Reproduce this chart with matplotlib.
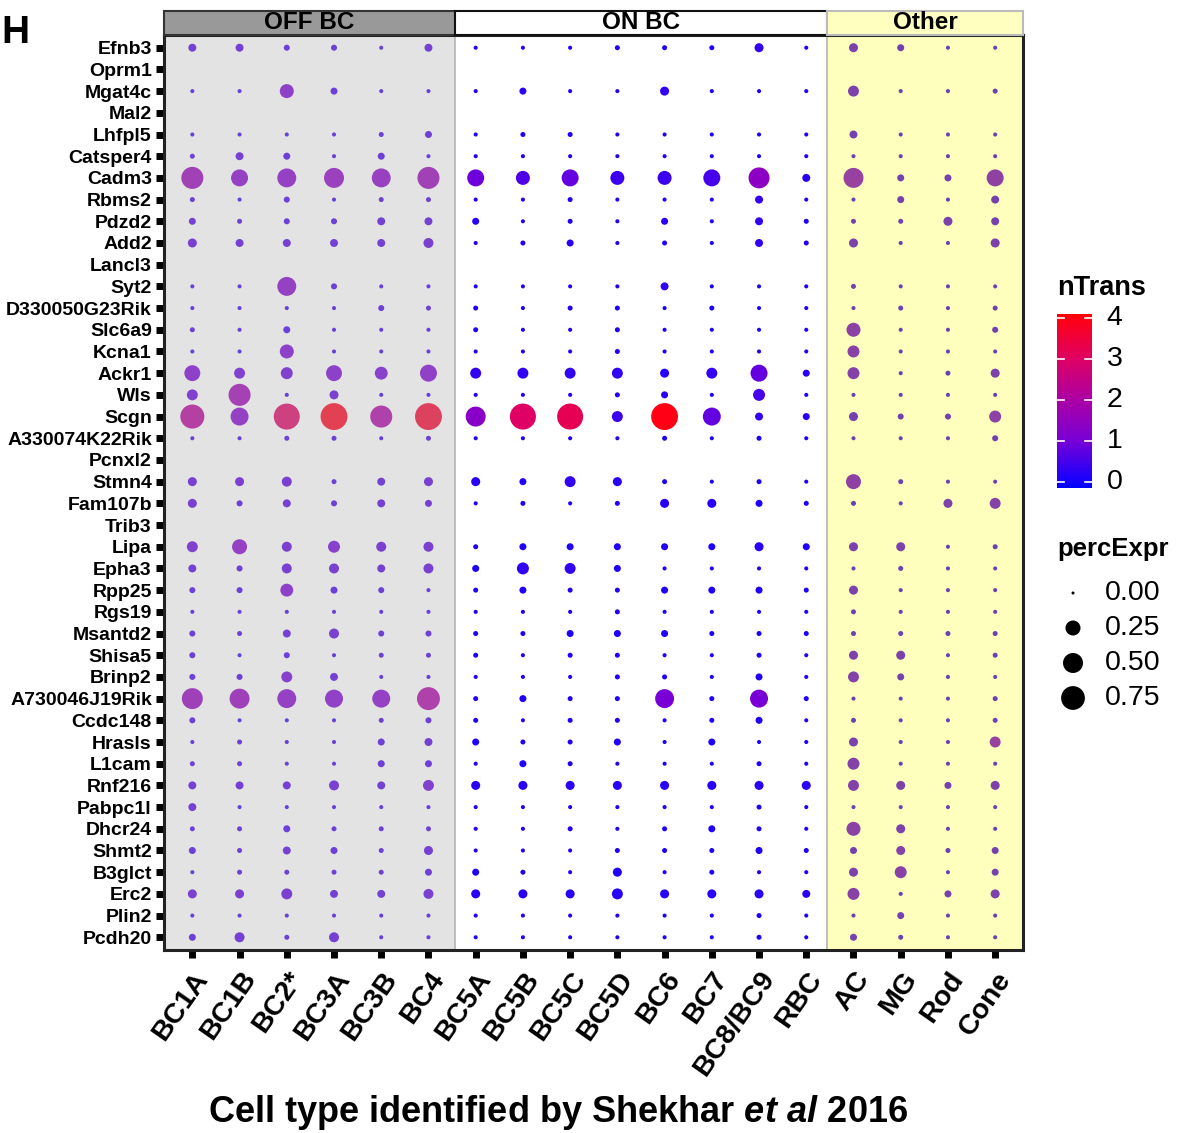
import numpy as np
import matplotlib
matplotlib.use("Agg")
import matplotlib.pyplot as plt
import matplotlib.transforms as mtransforms
from matplotlib.colors import LinearSegmentedColormap, Normalize
from matplotlib.patches import Rectangle

plt.rcParams['font.family'] = ['Liberation Sans', 'DejaVu Sans']
plt.rcParams['mathtext.fontset'] = 'custom'
plt.rcParams['mathtext.rm'] = 'Liberation Sans:bold'
plt.rcParams['mathtext.it'] = 'Liberation Sans:italic:bold'
plt.rcParams['mathtext.bf'] = 'Liberation Sans:bold'

# ---------------- data ----------------
genes = ["Efnb3", "Oprm1", "Mgat4c", "Mal2", "Lhfpl5", "Catsper4", "Cadm3", "Rbms2",
         "Pdzd2", "Add2", "Lancl3", "Syt2", "D330050G23Rik", "Slc6a9", "Kcna1", "Ackr1",
         "Wls", "Scgn", "A330074K22Rik", "Pcnxl2", "Stmn4", "Fam107b", "Trib3", "Lipa",
         "Epha3", "Rpp25", "Rgs19", "Msantd2", "Shisa5", "Brinp2", "A730046J19Rik",
         "Ccdc148", "Hrasls", "L1cam", "Rnf216", "Pabpc1l", "Dhcr24", "Shmt2", "B3glct",
         "Erc2", "Plin2", "Pcdh20"]

off_types = ["BC1A", "BC1B", "BC2*", "BC3A", "BC3B", "BC4"]
on_types = ["BC5A", "BC5B", "BC5C", "BC5D", "BC6", "BC7", "BC8/BC9", "RBC"]
other_types = ["AC", "MG", "Rod", "Cone"]
group_names = ["OFF BC", "ON BC", "Other"]

# fraction of cells expressing (None = gene not measured)
off_pct = [
    [0.043, 0.043, 0.016, 0.016, 0.002, 0.043],
    None,
    [0.002, 0.002, 0.21, 0.028, 0.002, 0.002],
    None,
    [0.002, 0.002, 0.002, 0.002, 0.007, 0.028],
    [0.007, 0.043, 0.028, 0.002, 0.028, 0.002],
    [0.63, 0.34, 0.44, 0.50, 0.44, 0.63],
    [0.007, 0.002, 0.016, 0.002, 0.007, 0.007],
    [0.028, 0.007, 0.016, 0.016, 0.043, 0.043],
    [0.063, 0.043, 0.043, 0.043, 0.043, 0.085],
    None,
    [0.002, 0.002, 0.44, 0.016, 0.002, 0.002],
    [0.002, 0.002, 0.002, 0.002, 0.016, 0.007],
    [0.007, 0.002, 0.028, 0.002, 0.002, 0.002],
    [0.002, 0.002, 0.21, 0.002, 0.002, 0.002],
    [0.29, 0.11, 0.14, 0.29, 0.17, 0.34],
    [0.11, 0.63, 0.002, 0.063, 0.002, 0.002],
    [0.77, 0.39, 0.92, 0.99, 0.63, 0.99],
    [0.002, 0.002, 0.007, 0.007, 0.002, 0.007],
    None,
    [0.063, 0.063, 0.085, 0.007, 0.043, 0.063],
    [0.063, 0.016, 0.043, 0.016, 0.043, 0.028],
    None,
    [0.11, 0.25, 0.085, 0.14, 0.085, 0.085],
    [0.043, 0.016, 0.085, 0.085, 0.043, 0.085],
    [0.016, 0.016, 0.17, 0.028, 0.016, 0.002],
    [0.002, 0.002, 0.002, 0.002, 0.002, 0.002],
    [0.016, 0.007, 0.043, 0.085, 0.016, 0.016],
    [0.016, 0.002, 0.016, 0.002, 0.007, 0.007],
    [0.016, 0.016, 0.11, 0.043, 0.002, 0.002],
    [0.56, 0.50, 0.44, 0.39, 0.39, 0.69],
    [0.016, 0.002, 0.002, 0.002, 0.007, 0.016],
    [0.002, 0.007, 0.002, 0.002, 0.028, 0.043],
    [0.007, 0.007, 0.002, 0.002, 0.028, 0.028],
    [0.043, 0.043, 0.043, 0.085, 0.043, 0.11],
    [0.043, 0.002, 0.002, 0.002, 0.002, 0.002],
    [0.007, 0.007, 0.028, 0.007, 0.007, 0.007],
    [0.028, 0.007, 0.043, 0.028, 0.007, 0.063],
    [0.002, 0.007, 0.007, 0.007, 0.007, 0.028],
    [0.063, 0.063, 0.11, 0.043, 0.043, 0.085],
    [0.002, 0.002, 0.002, 0.002, 0.002, 0.002],
    [0.028, 0.085, 0.007, 0.085, 0.002, 0.002],
]

on_pct = [
    [0.002, 0.002, 0.002, 0.007, 0.007, 0.007, 0.063, 0.002],
    None,
    [0.002, 0.028, 0.002, 0.002, 0.063, 0.002, 0.002, 0.002],
    None,
    [0.002, 0.007, 0.007, 0.002, 0.002, 0.002, 0.002, 0.002],
    [0.002, 0.002, 0.002, 0.002, 0.002, 0.002, 0.002, 0.002],
    [0.34, 0.21, 0.34, 0.21, 0.21, 0.34, 0.56, 0.043],
    [0.002, 0.002, 0.007, 0.002, 0.002, 0.002, 0.043, 0.002],
    [0.028, 0.002, 0.007, 0.002, 0.028, 0.002, 0.043, 0.007],
    [0.002, 0.007, 0.028, 0.002, 0.007, 0.002, 0.043, 0.007],
    None,
    [0.002, 0.002, 0.002, 0.002, 0.043, 0.002, 0.002, 0.002],
    [0.007, 0.002, 0.007, 0.007, 0.002, 0.007, 0.002, 0.002],
    [0.007, 0.002, 0.002, 0.007, 0.002, 0.002, 0.002, 0.002],
    [0.002, 0.002, 0.002, 0.007, 0.002, 0.002, 0.002, 0.002],
    [0.11, 0.11, 0.11, 0.11, 0.063, 0.11, 0.34, 0.028],
    [0.002, 0.002, 0.002, 0.007, 0.028, 0.002, 0.14, 0.002],
    [0.50, 0.92, 0.92, 0.11, 0.99, 0.39, 0.043, 0.028],
    [0.002, 0.002, 0.002, 0.002, 0.007, 0.002, 0.007, 0.002],
    None,
    [0.063, 0.028, 0.11, 0.063, 0.007, 0.002, 0.007, 0.002],
    [0.002, 0.007, 0.002, 0.007, 0.063, 0.063, 0.028, 0.007],
    None,
    [0.007, 0.028, 0.028, 0.028, 0.028, 0.028, 0.063, 0.028],
    [0.028, 0.14, 0.11, 0.028, 0.002, 0.002, 0.002, 0.002],
    [0.007, 0.028, 0.007, 0.007, 0.028, 0.028, 0.028, 0.007],
    [0.002, 0.002, 0.002, 0.007, 0.002, 0.002, 0.002, 0.002],
    [0.007, 0.007, 0.028, 0.028, 0.028, 0.007, 0.007, 0.007],
    [0.007, 0.002, 0.007, 0.007, 0.002, 0.002, 0.007, 0.002],
    [0.002, 0.002, 0.002, 0.007, 0.007, 0.002, 0.028, 0.002],
    [0.007, 0.028, 0.007, 0.007, 0.44, 0.007, 0.39, 0.007],
    [0.007, 0.002, 0.007, 0.007, 0.002, 0.007, 0.028, 0.002],
    [0.028, 0.007, 0.007, 0.028, 0.002, 0.028, 0.002, 0.002],
    [0.002, 0.028, 0.007, 0.002, 0.002, 0.002, 0.007, 0.002],
    [0.063, 0.063, 0.063, 0.063, 0.063, 0.063, 0.063, 0.063],
    [0.002, 0.002, 0.002, 0.002, 0.002, 0.002, 0.007, 0.002],
    [0.002, 0.002, 0.007, 0.002, 0.007, 0.028, 0.007, 0.002],
    [0.002, 0.002, 0.002, 0.007, 0.007, 0.007, 0.028, 0.007],
    [0.028, 0.007, 0.002, 0.063, 0.002, 0.007, 0.002, 0.002],
    [0.063, 0.063, 0.063, 0.11, 0.063, 0.063, 0.063, 0.043],
    [0.002, 0.002, 0.002, 0.002, 0.002, 0.002, 0.007, 0.002],
    [0.002, 0.002, 0.002, 0.002, 0.002, 0.002, 0.007, 0.002],
]

other_pct = [
    [0.063, 0.028, 0.002, 0.002],
    None,
    [0.11, 0.002, 0.002, 0.007],
    None,
    [0.043, 0.002, 0.002, 0.002],
    [0.002, 0.002, 0.002, 0.002],
    [0.50, 0.028, 0.028, 0.34],
    [0.002, 0.028, 0.002, 0.043],
    [0.007, 0.007, 0.063, 0.043],
    [0.063, 0.002, 0.002, 0.063],
    None,
    [0.007, 0.002, 0.002, 0.002],
    [0.002, 0.007, 0.002, 0.007],
    [0.21, 0.002, 0.002, 0.016],
    [0.14, 0.002, 0.002, 0.002],
    [0.14, 0.002, 0.007, 0.063],
    [0.002, 0.002, 0.002, 0.002],
    [0.063, 0.016, 0.016, 0.14],
    [0.002, 0.002, 0.002, 0.016],
    None,
    [0.25, 0.007, 0.002, 0.002],
    [0.007, 0.002, 0.063, 0.11],
    None,
    [0.063, 0.063, 0.002, 0.007],
    [0.002, 0.007, 0.002, 0.002],
    [0.063, 0.002, 0.002, 0.002],
    [0.007, 0.002, 0.002, 0.002],
    [0.007, 0.007, 0.007, 0.007],
    [0.063, 0.063, 0.002, 0.007],
    [0.11, 0.028, 0.002, 0.002],
    [0.002, 0.002, 0.002, 0.007],
    [0.007, 0.002, 0.002, 0.007],
    [0.063, 0.002, 0.002, 0.11],
    [0.14, 0.002, 0.002, 0.002],
    [0.11, 0.063, 0.028, 0.063],
    [0.002, 0.002, 0.002, 0.002],
    [0.21, 0.063, 0.002, 0.002],
    [0.028, 0.063, 0.007, 0.028],
    [0.063, 0.14, 0.002, 0.028],
    [0.14, 0.002, 0.028, 0.063],
    [0.002, 0.028, 0.002, 0.002],
    [0.028, 0.007, 0.002, 0.002],
]

# mean number of transcripts (colour)
off_ntrans = [
    [0.6, 0.6, 0.5, 0.5, 0.4, 0.6],
    None,
    [0.4, 0.4, 1.0, 0.5, 0.4, 0.4],
    None,
    [0.4, 0.4, 0.4, 0.4, 0.5, 0.5],
    [0.5, 0.6, 0.5, 0.4, 0.5, 0.4],
    [1.6, 1.2, 1.2, 1.4, 1.3, 1.6],
    [0.5, 0.4, 0.5, 0.4, 0.5, 0.5],
    [0.6, 0.5, 0.5, 0.5, 0.6, 0.6],
    [0.7, 0.6, 0.6, 0.6, 0.6, 0.7],
    None,
    [0.4, 0.4, 1.2, 0.5, 0.4, 0.4],
    [0.4, 0.4, 0.4, 0.4, 0.5, 0.5],
    [0.5, 0.4, 0.5, 0.4, 0.4, 0.4],
    [0.4, 0.4, 1.0, 0.4, 0.4, 0.4],
    [1.0, 0.8, 0.8, 1.0, 0.9, 1.1],
    [0.8, 1.7, 0.4, 0.7, 0.4, 0.4],
    [2.2, 1.2, 3.0, 3.9, 2.0, 3.7],
    [0.4, 0.4, 0.5, 0.5, 0.4, 0.5],
    None,
    [0.7, 0.7, 0.7, 0.5, 0.6, 0.7],
    [0.7, 0.5, 0.6, 0.5, 0.6, 0.6],
    None,
    [0.8, 1.2, 0.7, 0.9, 0.7, 0.7],
    [0.6, 0.5, 0.7, 0.7, 0.6, 0.7],
    [0.5, 0.5, 1.0, 0.5, 0.5, 0.4],
    [0.4, 0.4, 0.4, 0.4, 0.4, 0.4],
    [0.5, 0.5, 0.6, 0.7, 0.5, 0.5],
    [0.5, 0.4, 0.5, 0.4, 0.5, 0.5],
    [0.5, 0.5, 0.9, 0.6, 0.4, 0.4],
    [1.5, 1.5, 1.2, 1.1, 1.2, 2.0],
    [0.5, 0.4, 0.4, 0.4, 0.5, 0.5],
    [0.4, 0.5, 0.4, 0.4, 0.5, 0.6],
    [0.5, 0.5, 0.4, 0.4, 0.5, 0.5],
    [0.6, 0.6, 0.6, 0.7, 0.6, 0.8],
    [0.6, 0.4, 0.4, 0.4, 0.4, 0.4],
    [0.5, 0.5, 0.5, 0.5, 0.5, 0.5],
    [0.5, 0.5, 0.6, 0.5, 0.5, 0.6],
    [0.4, 0.5, 0.5, 0.5, 0.5, 0.5],
    [0.7, 0.7, 0.7, 0.6, 0.6, 0.7],
    [0.4, 0.4, 0.4, 0.4, 0.4, 0.4],
    [0.5, 0.6, 0.5, 0.6, 0.4, 0.4],
]

on_ntrans = [
    [0.1, 0.1, 0.1, 0.1, 0.1, 0.1, 0.3, 0.1],
    None,
    [0.1, 0.2, 0.1, 0.1, 0.3, 0.1, 0.1, 0.1],
    None,
    [0.1, 0.1, 0.1, 0.1, 0.1, 0.1, 0.1, 0.1],
    [0.1, 0.1, 0.1, 0.1, 0.1, 0.1, 0.1, 0.1],
    [0.9, 0.6, 0.8, 0.4, 0.4, 0.5, 1.4, 0.2],
    [0.1, 0.1, 0.1, 0.1, 0.1, 0.1, 0.3, 0.1],
    [0.2, 0.1, 0.1, 0.1, 0.2, 0.1, 0.3, 0.1],
    [0.1, 0.1, 0.2, 0.1, 0.1, 0.1, 0.3, 0.1],
    None,
    [0.1, 0.1, 0.1, 0.1, 0.3, 0.1, 0.1, 0.1],
    [0.1, 0.1, 0.1, 0.1, 0.1, 0.1, 0.1, 0.1],
    [0.1, 0.1, 0.1, 0.1, 0.1, 0.1, 0.1, 0.1],
    [0.1, 0.1, 0.1, 0.1, 0.1, 0.1, 0.1, 0.1],
    [0.3, 0.3, 0.3, 0.3, 0.2, 0.3, 0.8, 0.2],
    [0.1, 0.1, 0.1, 0.1, 0.2, 0.1, 0.5, 0.1],
    [1.3, 3.0, 3.2, 0.4, 4.0, 0.8, 0.3, 0.2],
    [0.1, 0.1, 0.1, 0.1, 0.1, 0.1, 0.1, 0.1],
    None,
    [0.2, 0.1, 0.3, 0.2, 0.1, 0.1, 0.1, 0.1],
    [0.1, 0.1, 0.1, 0.1, 0.2, 0.2, 0.1, 0.1],
    None,
    [0.1, 0.1, 0.1, 0.1, 0.1, 0.1, 0.2, 0.1],
    [0.1, 0.3, 0.3, 0.1, 0.1, 0.1, 0.1, 0.1],
    [0.1, 0.1, 0.1, 0.1, 0.1, 0.1, 0.1, 0.1],
    [0.1, 0.1, 0.1, 0.1, 0.1, 0.1, 0.1, 0.1],
    [0.1, 0.1, 0.1, 0.1, 0.1, 0.1, 0.1, 0.1],
    [0.1, 0.1, 0.1, 0.1, 0.1, 0.1, 0.1, 0.1],
    [0.1, 0.1, 0.1, 0.1, 0.1, 0.1, 0.1, 0.1],
    [0.1, 0.1, 0.1, 0.1, 1.0, 0.1, 1.0, 0.1],
    [0.1, 0.1, 0.1, 0.1, 0.1, 0.1, 0.1, 0.1],
    [0.1, 0.1, 0.1, 0.1, 0.1, 0.1, 0.1, 0.1],
    [0.1, 0.1, 0.1, 0.1, 0.1, 0.1, 0.1, 0.1],
    [0.2, 0.2, 0.2, 0.2, 0.2, 0.2, 0.2, 0.2],
    [0.1, 0.1, 0.1, 0.1, 0.1, 0.1, 0.1, 0.1],
    [0.1, 0.1, 0.1, 0.1, 0.1, 0.1, 0.1, 0.1],
    [0.1, 0.1, 0.1, 0.1, 0.1, 0.1, 0.1, 0.1],
    [0.1, 0.1, 0.1, 0.1, 0.1, 0.1, 0.1, 0.1],
    [0.2, 0.2, 0.2, 0.2, 0.2, 0.2, 0.2, 0.2],
    [0.1, 0.1, 0.1, 0.1, 0.1, 0.1, 0.1, 0.1],
    [0.1, 0.1, 0.1, 0.1, 0.1, 0.1, 0.1, 0.1],
]

other_ntrans = [
    [0.6, 0.45, 0.35, 0.35],
    None,
    [0.6, 0.35, 0.35, 0.35],
    None,
    [0.5, 0.35, 0.35, 0.35],
    [0.35, 0.35, 0.35, 0.35],
    [0.95, 0.5, 0.5, 0.85],
    [0.35, 0.5, 0.35, 0.5],
    [0.45, 0.45, 0.6, 0.5],
    [0.6, 0.35, 0.35, 0.6],
    None,
    [0.45, 0.35, 0.35, 0.35],
    [0.35, 0.35, 0.35, 0.35],
    [0.8, 0.35, 0.35, 0.45],
    [0.75, 0.35, 0.35, 0.35],
    [0.7, 0.35, 0.35, 0.6],
    [0.35, 0.35, 0.35, 0.35],
    [0.5, 0.45, 0.45, 0.8],
    [0.35, 0.35, 0.35, 0.45],
    None,
    [0.85, 0.35, 0.35, 0.35],
    [0.35, 0.35, 0.6, 0.7],
    None,
    [0.6, 0.6, 0.35, 0.35],
    [0.35, 0.35, 0.35, 0.35],
    [0.6, 0.35, 0.35, 0.35],
    [0.35, 0.35, 0.35, 0.35],
    [0.35, 0.35, 0.35, 0.35],
    [0.6, 0.6, 0.35, 0.35],
    [0.7, 0.5, 0.35, 0.35],
    [0.35, 0.35, 0.35, 0.35],
    [0.35, 0.35, 0.35, 0.35],
    [0.6, 0.35, 0.35, 0.95],
    [0.7, 0.35, 0.35, 0.35],
    [0.7, 0.6, 0.5, 0.6],
    [0.35, 0.35, 0.35, 0.35],
    [0.8, 0.6, 0.35, 0.35],
    [0.5, 0.7, 0.35, 0.5],
    [0.6, 0.75, 0.35, 0.5],
    [0.75, 0.35, 0.5, 0.6],
    [0.35, 0.5, 0.35, 0.35],
    [0.5, 0.35, 0.35, 0.35],
]

legend_sizes = [0.00, 0.25, 0.50, 0.75]
colorbar_ticks = [0, 1, 2, 3, 4]

# ---------------- helpers ----------------
W, H, DPI = 1192, 1133, 100
norm = Normalize(vmin=-0.15, vmax=4.1)
cstops = [(-0.15, (0, 0, 255)), (0.0, (20, 0, 255)), (1.0, (120, 0, 215)),
          (2.0, (172, 0, 165)), (3.0, (222, 0, 100)), (4.0, (255, 0, 20)),
          (4.1, (255, 0, 0))]
cmap = LinearSegmentedColormap.from_list(
    "ntrans", [(float(norm(v)), tuple(np.array(c) / 255.0)) for v, c in cstops])


def size_scale(p):
    # ggplot-like area scale: diameter grows with sqrt of fraction
    d_px = 3.0 + 24.0 * np.sqrt(np.asarray(p, float))
    return (d_px * 72.0 / DPI) ** 2


# ---------------- assemble ----------------
cell_types = off_types + on_types + other_types
xs, ys, pcts, nts = [], [], [], []
col0 = 1
for pct_tab, nt_tab, types in [(off_pct, off_ntrans, off_types),
                               (on_pct, on_ntrans, on_types),
                               (other_pct, other_ntrans, other_types)]:
    for gi, (prow, nrow) in enumerate(zip(pct_tab, nt_tab)):
        if prow is None:
            continue
        for j, (p, n) in enumerate(zip(prow, nrow)):
            xs.append(col0 + j)
            ys.append(gi + 1)
            pcts.append(p)
            nts.append(n)
    col0 += len(types)

fig = plt.figure(figsize=(W / DPI, H / DPI), dpi=DPI)
ax_l, ax_r, ax_t, ax_b = 164, 1023.5, 34.7, 950.3
ax = fig.add_axes([ax_l / W, 1 - ax_b / H, (ax_r - ax_l) / W, (ax_b - ax_t) / H])
ax.set_facecolor('white')
ax.scatter(xs, ys, s=size_scale(pcts), c=nts, cmap=cmap, norm=norm,
           edgecolors='none', zorder=2)
ax.set_xlim(0.4, 18.6)
ax.set_ylim(42.6, 0.4)

b1, b2 = 6.56, 14.43
ax.add_patch(Rectangle((0.4, 0.4), b1 - 0.4, 42.2, facecolor=(0.70, 0.70, 0.70),
                       alpha=0.37, edgecolor='none', zorder=3))
ax.add_patch(Rectangle((b2, 0.4), 18.6 - b2, 42.2, facecolor=(1, 1, 0),
                       alpha=0.26, edgecolor='none', zorder=3))
for b in (b1, b2):
    ax.axvline(b, color='#b4b4b4', lw=1.2, zorder=3.5)

ax.set_yticks(range(1, len(genes) + 1))
ax.set_yticklabels(genes, fontsize=14, fontweight='bold')
ax.set_xticks(range(1, len(cell_types) + 1))
ax.set_xticklabels(cell_types, fontsize=20.5, fontweight='bold', rotation=55,
                   ha='right', va='top', rotation_mode='anchor')
ax.tick_params(axis='y', length=5.8, width=5, pad=3, color='black')
ax.tick_params(axis='x', length=5.8, width=5, pad=6, color='black')
for sp in ax.spines.values():
    sp.set_linewidth(2.2)
    sp.set_color('#222222')
    sp.set_zorder(5)

# strips
trans = mtransforms.blended_transform_factory(ax.transData, ax.transAxes)
sh = 23.7 / (ax_b - ax_t)
strip_specs = [(0.4, b1, '#999999', '#333333'),
               (b1, b2, 'white', '#111111'),
               (b2, 18.6, '#FFFFC0', '#bbbbbb')]
for name, (x0, x1, fc, ec) in zip(group_names, strip_specs):
    ax.add_patch(Rectangle((x0, 1.0), x1 - x0, sh, transform=trans, facecolor=fc,
                           edgecolor=ec, lw=1.5, clip_on=False, zorder=6))
    ax.text((x0 + x1) / 2, 1.0 + sh / 2, name, transform=trans, ha='center',
            va='center', fontsize=17.5, fontweight='bold', zorder=7)

# overlay in pixel coordinates for legends / labels
ov = fig.add_axes([0, 0, 1, 1])
ov.set_xlim(0, W)
ov.set_ylim(H, 0)
ov.axis('off')
ov.patch.set_alpha(0)

ov.text(1, 33, "H", ha='left', va='center', fontsize=28, fontweight='bold')
ov.text(558, 1112, r"Cell type identified by Shekhar $\it{et\ al}$ 2016",
        ha='center', va='center', fontsize=26, fontweight='bold')

# colour bar
cb_x, cb_w, cb_top, cb_bot = 1057, 35, 314, 488
cax = fig.add_axes([cb_x / W, 1 - cb_bot / H, cb_w / W, (cb_bot - cb_top) / H])
grad = np.linspace(norm.vmin, norm.vmax, 256).reshape(-1, 1)
cax.imshow(grad, aspect='auto', cmap=cmap, norm=norm, origin='lower',
           extent=[0, 1, norm.vmin, norm.vmax])
cax.set_xlim(0, 1)
cax.set_ylim(norm.vmin, norm.vmax)
cax.axis('off')
ctrans = mtransforms.blended_transform_factory(cax.transAxes, cax.transData)
for v in colorbar_ticks:
    cax.plot([0, 0.2], [v, v], color='white', lw=1.2, transform=ctrans)
    cax.plot([0.8, 1.0], [v, v], color='white', lw=1.2, transform=ctrans)
    cax.text(1.42, v, str(v), transform=ctrans, ha='left', va='center', fontsize=20.5,
             clip_on=False)
ov.text(1057, 288, "nTrans", ha='left', va='center', fontsize=19.5, fontweight='bold')

# size legend
ov.text(1057, 549, "percExpr", ha='left', va='center', fontsize=18.5, fontweight='bold')
leg_y = [593, 628, 663, 698]
ov.scatter([1073] * len(legend_sizes), leg_y, s=size_scale(legend_sizes),
           color='black', edgecolors='none')
for yv, v in zip(leg_y, legend_sizes):
    ov.text(1105, yv, f"{v:.2f}", ha='left', va='center', fontsize=20.5)

fig.savefig("out.png", dpi=DPI)
